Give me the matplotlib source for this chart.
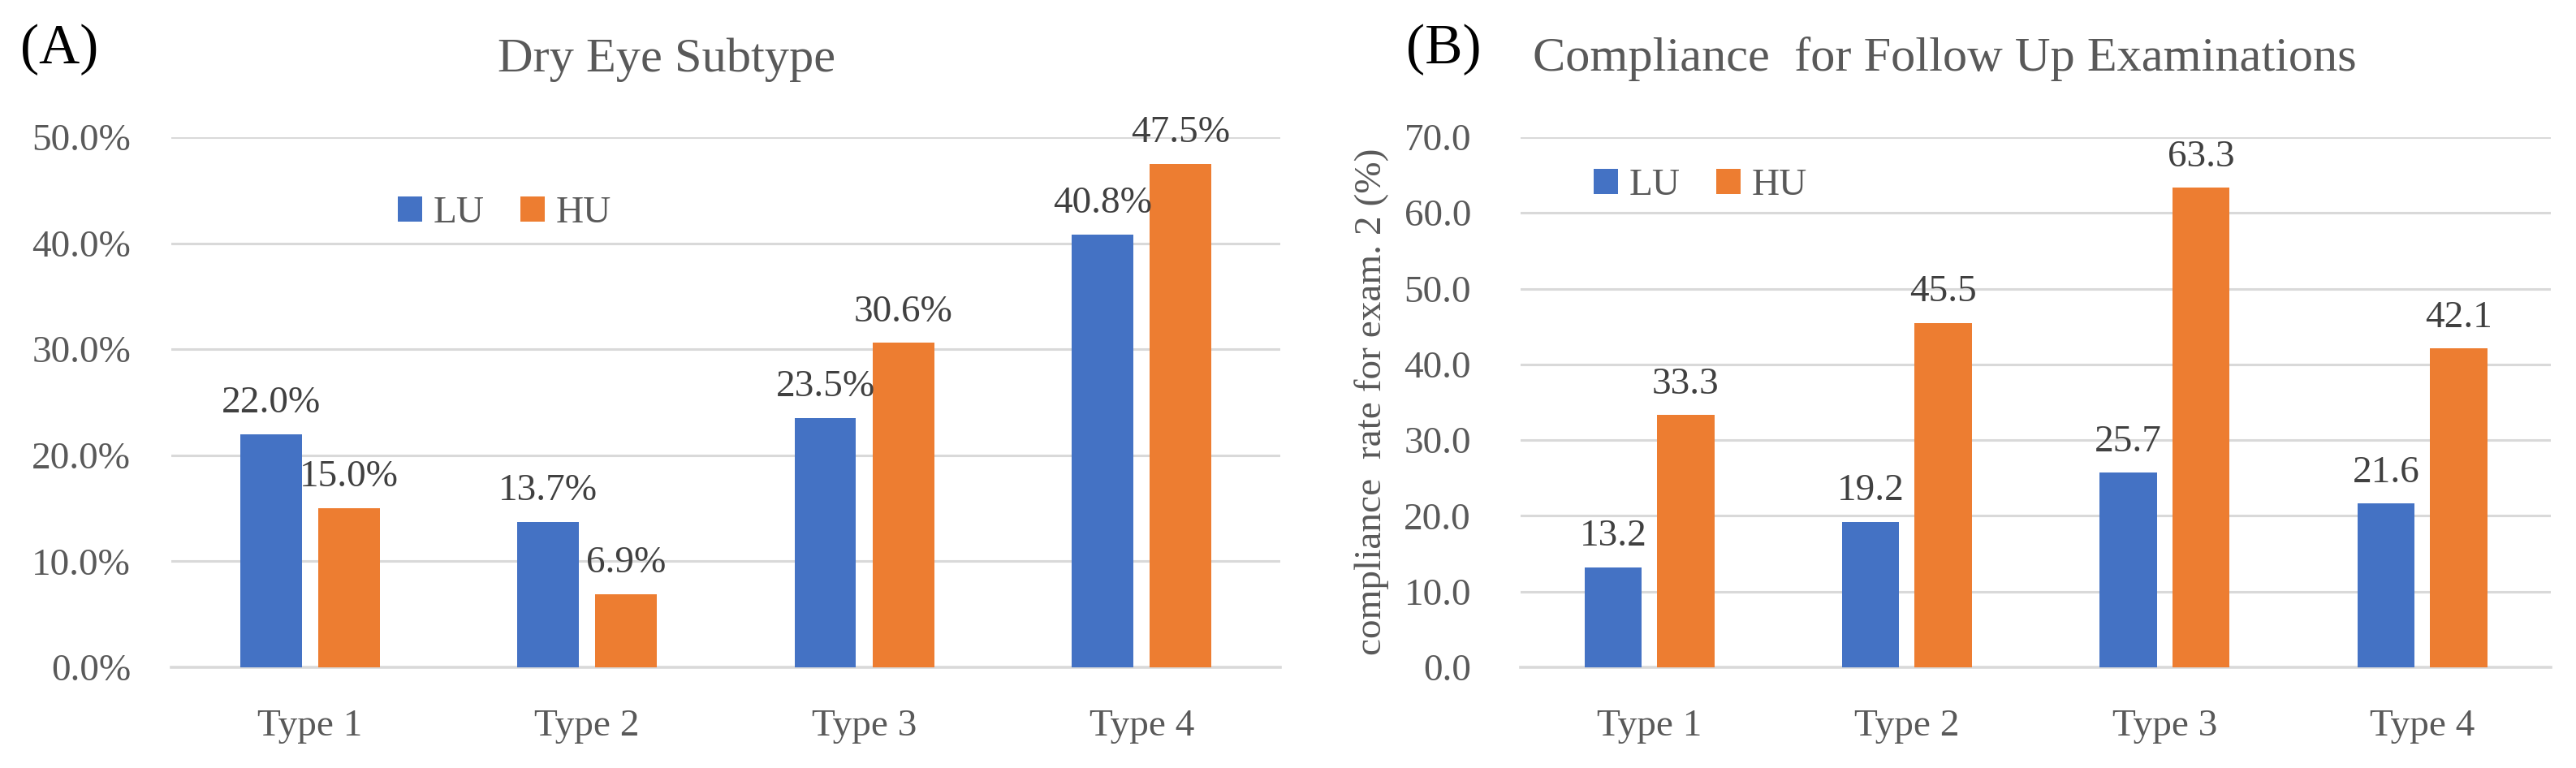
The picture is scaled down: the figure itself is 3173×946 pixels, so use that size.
import matplotlib
matplotlib.use("Agg")
import matplotlib.pyplot as plt
import numpy as np
from matplotlib.ticker import FuncFormatter

categories = ["Type 1", "Type 2", "Type 3", "Type 4"]
series_names = ["LU", "HU"]

# (A) Dry Eye Subtype, percent
subtype_lu = [22.0, 13.7, 23.5, 40.8]
subtype_hu = [15.0, 6.9, 30.6, 47.5]

# (B) compliance rate for exam. 2 (%)
compliance_lu = [13.2, 19.2, 25.7, 21.6]
compliance_hu = [33.3, 45.5, 63.3, 42.1]

BLUE = "#4472C4"
ORANGE = "#ED7D31"
GRID = "#D9D9D9"
TEXT = "#595959"
LABEL = "#404040"
FS = 34

plt.rcParams["font.family"] = ["Liberation Serif", "DejaVu Serif"]

fig = plt.figure(figsize=(31.73, 9.46), dpi=100)


def bar_panel(ax, lu, hu, ymax, step, fmt, tickpad):
    xs = np.arange(len(categories))
    w = 0.222
    off = 0.141
    b1 = ax.bar(xs - off, lu, w, color=BLUE, label=series_names[0], zorder=3)
    b2 = ax.bar(xs + off, hu, w, color=ORANGE, label=series_names[1], zorder=3)
    for bars, vals in ((b1, lu), (b2, hu)):
        for rect, v in zip(bars, vals):
            ax.annotate(fmt(v), (rect.get_x() + rect.get_width() / 2, v),
                        xytext=(0, 12), textcoords="offset points",
                        ha="center", va="bottom", fontsize=FS, color=LABEL)
    ax.set_xlim(-0.5, len(categories) - 0.5)
    ax.set_ylim(0, ymax)
    ax.set_yticks(np.arange(0, ymax + step / 2, step))
    ax.yaxis.set_major_formatter(FuncFormatter(lambda v, p: fmt(v)))
    ax.set_xticks(xs)
    ax.set_xticklabels(categories)
    ax.grid(axis="y", color=GRID, linewidth=2.2, zorder=0)
    ax.set_axisbelow(True)
    for s in ("top", "right", "left"):
        ax.spines[s].set_visible(False)
    ax.spines["bottom"].set_color(GRID)
    ax.spines["bottom"].set_linewidth(2.6)
    ax.tick_params(axis="both", length=0, labelsize=FS, colors=TEXT)
    ax.tick_params(axis="x", pad=37)
    ax.tick_params(axis="y", pad=tickpad)
    return b1, b2


ax1 = fig.add_axes([0.0665, 0.1311, 0.4305, 0.6903])
h1 = bar_panel(ax1, subtype_lu, subtype_hu, 50, 10, lambda v: f"{v:.1f}%", 36)

ax2 = fig.add_axes([0.5903, 0.1311, 0.400, 0.6903])
h2 = bar_panel(ax2, compliance_lu, compliance_hu, 70, 10, lambda v: f"{v:.1f}", 44)

leg_kw = dict(loc="center left", ncol=2, frameon=False, fontsize=FS,
              handlelength=0.64, handleheight=0.64, handletextpad=0.28,
              columnspacing=0.94, borderpad=0, borderaxespad=0,
              labelcolor=TEXT)
fig.legend(h1, series_names, bbox_to_anchor=(0.1544, 0.722), **leg_kw)
fig.legend(h2, series_names, bbox_to_anchor=(0.6187, 0.758), **leg_kw)

fig.text(0.2588, 0.907, "Dry Eye Subtype", ha="center", va="baseline",
         fontsize=43.5, color=TEXT)
fig.text(0.595, 0.908, "Compliance  for Follow Up Examinations", ha="left",
         va="baseline", fontsize=43.5, color=TEXT)
fig.text(0.008, 0.9175, "(A)", ha="left", va="baseline", fontsize=50, color="black")
fig.text(0.546, 0.9175, "(B)", ha="left", va="baseline", fontsize=50, color="black")
fig.text(0.5326, 0.477, "compliance  rate for exam. 2 (%)", rotation=90,
         ha="center", va="center", fontsize=FS, color=TEXT)

fig.savefig("out.png", dpi=100, facecolor="white")
